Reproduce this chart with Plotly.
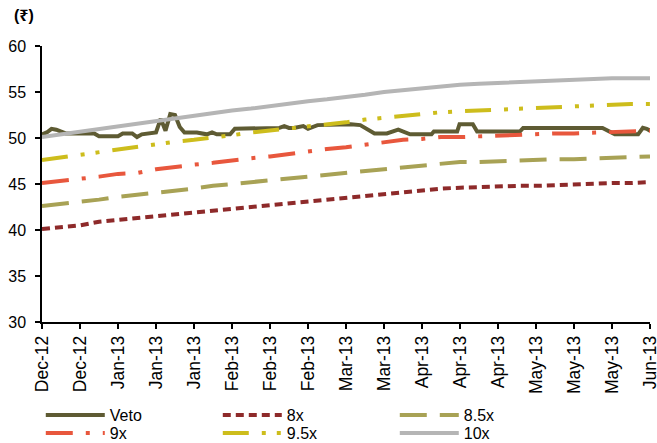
import plotly.graph_objects as go

# trading-day index of the band samples (every 4 days)
band_day = list(range(0, 129, 4))

band_10x = [50.1, 50.4, 50.7, 51.0, 51.3, 51.6, 51.9, 52.2, 52.4, 52.7, 53.0, 53.2, 53.5, 53.8, 54.0, 54.2,
            54.4, 54.7, 55.0, 55.2, 55.5, 55.7, 55.8, 55.9, 56.0, 56.1, 56.2, 56.3, 56.3, 56.4, 56.5, 56.5, 56.5]
band_95x = [47.6, 47.9, 48.2, 48.5, 48.7, 49.0, 49.3, 49.6, 49.8, 50.0, 50.3, 50.6, 50.8, 51.1, 51.3, 51.5,
            51.7, 52.0, 52.2, 52.4, 52.7, 52.8, 52.9, 53.0, 53.1, 53.2, 53.3, 53.4, 53.5, 53.5, 53.6, 53.7, 53.7]
band_9x = [45.1, 45.3, 45.5, 45.8, 46.1, 46.2, 46.6, 46.9, 47.1, 47.3, 47.6, 47.8, 48.0, 48.3, 48.5, 48.8,
           49.0, 49.3, 49.5, 49.8, 49.9, 50.1, 50.1, 50.2, 50.3, 50.4, 50.4, 50.5, 50.5, 50.6, 50.7, 50.8, 50.8]
band_85x = [42.6, 42.8, 43.0, 43.3, 43.6, 43.8, 44.1, 44.3, 44.5, 44.8, 45.0, 45.2, 45.4, 45.7, 45.9, 46.1,
            46.3, 46.5, 46.7, 46.9, 47.1, 47.3, 47.4, 47.4, 47.5, 47.6, 47.6, 47.7, 47.7, 47.8, 47.9, 48.0, 48.0]
band_8x = [40.1, 40.3, 40.5, 40.9, 41.1, 41.3, 41.5, 41.7, 41.9, 42.1, 42.3, 42.6, 42.8, 43.0, 43.2, 43.4,
           43.6, 43.8, 44.0, 44.2, 44.4, 44.5, 44.6, 44.7, 44.8, 44.8, 44.8, 44.9, 45.0, 45.0, 45.1, 45.1, 45.2]

# Veto share price at its turning points (trading-day index, price)
veto_day = [0, 1, 2, 3, 5, 11, 12, 16, 17, 19, 20, 21, 24, 25, 26, 27, 28, 29, 30, 31.4, 32.6, 34.7, 35.8,
            36.8, 39.6, 40.6, 50, 51, 52, 53, 55, 56, 58, 65, 67, 70, 72.6, 75, 77.5, 82, 82.5, 87.4, 87.9,
            90.7, 91.6, 100.6, 101.3, 118, 120.6, 125.5, 126.5, 127.3, 128]
veto_price = [50.4, 50.6, 51.0, 50.9, 50.5, 50.5, 50.2, 50.2, 50.5, 50.5, 50.1, 50.4, 50.6, 52.1, 50.8, 52.6,
              52.5, 51.2, 50.6, 50.6, 50.6, 50.4, 50.6, 50.4, 50.4, 51.0, 51.1, 51.3, 51.1, 51.1, 51.3, 51.0,
              51.4, 51.5, 51.4, 50.5, 50.5, 50.9, 50.4, 50.4, 50.7, 50.7, 51.5, 51.5, 50.7, 50.7, 51.1, 51.1,
              50.4, 50.4, 51.1, 51.0, 50.8]

tick_day = list(range(0, 129, 8))
tick_labels = ["Dec-12", "Dec-12", "Jan-13", "Jan-13", "Jan-13", "Feb-13", "Feb-13", "Feb-13", "Mar-13",
               "Mar-13", "Apr-13", "Apr-13", "Apr-13", "May-13", "May-13", "May-13", "Jun-13"]

FONT = "Liberation Sans, Arial, Noto Sans, sans-serif"

fig = go.Figure()
series = [
    ("Veto", veto_day, veto_price, "#5E5B33", "solid", "legend"),
    ("8x", band_day, band_8x, "#8E2A2A", "8px,5px", "legend"),
    ("8.5x", band_day, band_85x, "#A8A255", "27px,13px", "legend"),
    ("9x", band_day, band_9x, "#E8573D", "27px,13px,4px,13px", "legend2"),
    ("9.5x", band_day, band_95x, "#CDBD1C", "26px,13px,4px,11px,4px,13px", "legend2"),
    ("10x", band_day, band_10x, "#B5B5B5", "solid", "legend2"),
]
for name, xs, ys, color, dash, leg in series:
    fig.add_trace(go.Scatter(x=xs, y=ys, name=name, mode="lines", legend=leg,
                             line=dict(color=color, width=4, dash=dash)))

legend_common = dict(orientation="h", x=-0.002, xanchor="left", yanchor="top",
                     entrywidth=103, entrywidthmode="pixels", itemwidth=59,
                     font=dict(size=16), tracegroupgap=0, bgcolor="rgba(0,0,0,0)")

fig.update_layout(
    width=657, height=443,
    margin=dict(l=42, r=7, t=46, b=121, autoexpand=False),
    paper_bgcolor="white", plot_bgcolor="white",
    font=dict(family=FONT, size=16, color="black"),
    showlegend=True,
    legend=dict(y=-0.2754, **legend_common),
    legend2=dict(y=-0.3406, **legend_common),
    annotations=[dict(text="<b>(₹)</b>", xref="paper", yref="paper", x=-0.05, y=1.112,
                      xanchor="left", yanchor="middle", showarrow=False,
                      font=dict(size=16, family=FONT))],
)
fig.update_xaxes(range=[0, 128], tickmode="array", tickvals=tick_day, ticktext=tick_labels,
                 tickangle=-90, ticks="outside", ticklen=5, tickwidth=1.5, tickcolor="black",
                 showline=True, linecolor="black", linewidth=1.5, showgrid=False, zeroline=False,
                 automargin=False, ticklabeloverflow="allow", tickfont=dict(size=17.5, family=FONT))
fig.update_yaxes(range=[30, 60], tickmode="array", tickvals=[30, 35, 40, 45, 50, 55, 60],
                 ticks="outside", ticklen=5, tickwidth=1.5, tickcolor="black", ticklabelstandoff=6,
                 showline=True, linecolor="black", linewidth=1.5, showgrid=False, zeroline=False,
                 automargin=False, tickfont=dict(size=16, family=FONT))

fig.write_html("out.html", config={"displayModeBar": False},
               post_script="document.body.style.margin='0px';document.body.style.overflow='hidden';")
